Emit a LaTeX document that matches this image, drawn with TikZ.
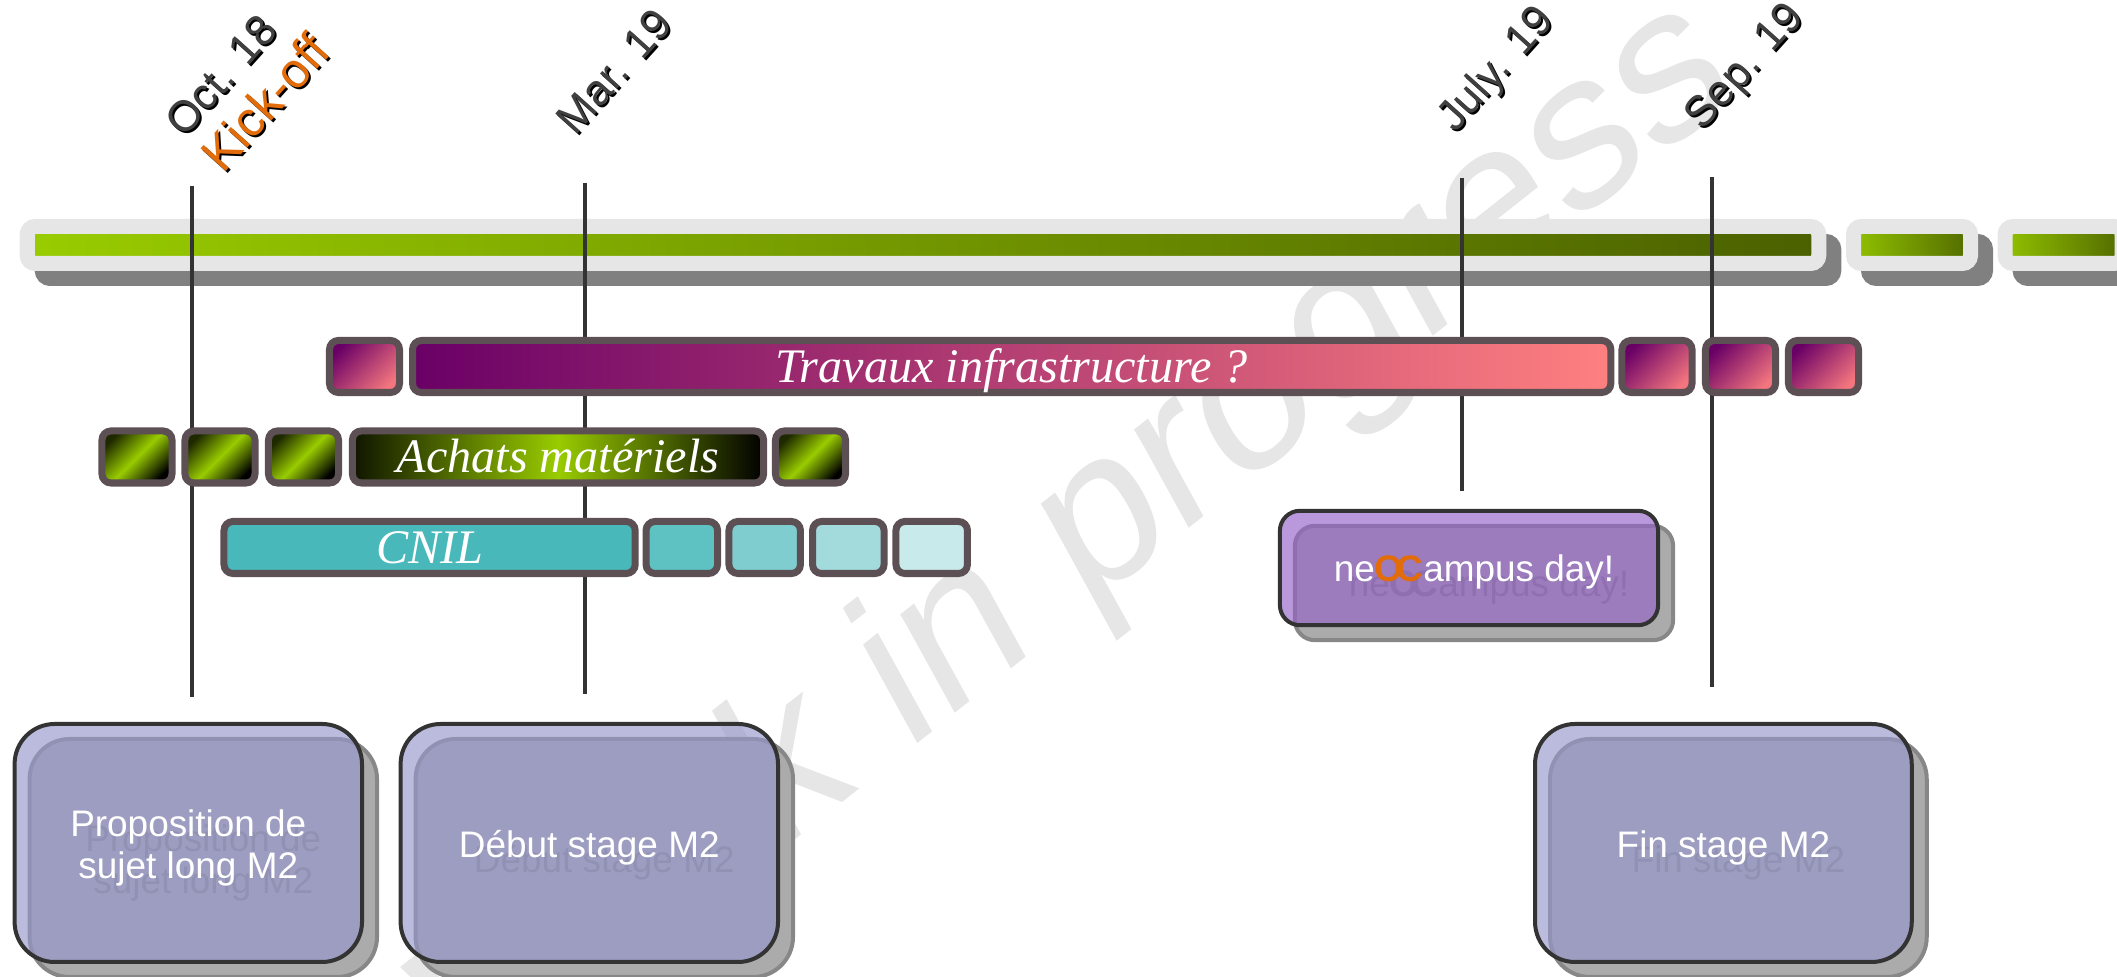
\documentclass[tikz,border=0pt]{standalone}
\usepackage{fontspec}
\setmainfont{Liberation Sans}
\newfontfamily\barfont{Liberation Serif}
\definecolor{barborder}{HTML}{5C5055}
\definecolor{barlight}{HTML}{E6E6E6}
\definecolor{bargreen}{HTML}{99CC00}
\definecolor{bardark}{HTML}{4B6000}
\definecolor{plum}{HTML}{6A0066}
\definecolor{salmon}{HTML}{FF8080}
\definecolor{cnilteal}{HTML}{48B8BA}
\definecolor{kickorange}{HTML}{E36C0A}
\definecolor{boxblue}{HTML}{9797CD}
\definecolor{boxpurple}{HTML}{9463C7}
\tikzset{
  mainbar/.style={draw=barlight,line width=0.15cm,rounded corners=0.08cm,inner sep=0pt,minimum height=0.37cm},
  barshadow/.style={mainbar,draw=black!50,fill=black!50},
  taskbar/.style={draw=barborder,line width=0.07cm,rounded corners=0.09cm,inner sep=0pt,minimum height=0.52cm,
    text height=0.42cm,text depth=0.10cm,text=white,font=\barfont\itshape\fontsize{13.7}{16}\selectfont},
  plumcell/.style={taskbar,left color=plum,right color=salmon!92!plum,shading angle=45,minimum width=0.7cm},
  greencell/.style={taskbar,left color=bargreen!20!black,right color=black,middle color=bargreen,shading angle=45,minimum width=0.7cm},
  tealcell/.style={taskbar,minimum width=0.715cm},
  eventbox/.style={draw=black!80,line width=0.04cm,fill opacity=0.65,inner sep=0pt},
  eventshadow/.style={draw=black!47,fill=black!33,line width=0.04cm,inner sep=0pt},
  eventtext/.style={text=white,align=center,inner sep=0pt,font=\fontsize{10.5}{12.2}\selectfont},
  dateline/.style={draw=black!80,line width=0.033cm},
  datelabel/.style={rotate=48,inner sep=0pt,font=\fontsize{12.3}{14}\selectfont}
}
\begin{document}
\begin{tikzpicture}[x=0.01cm,y=-0.01cm]
      \useasboundingbox (0,0) rectangle (2117,977);
      \node[rotate=38.3,xslant=0.167,yscale=0.98,anchor=base east,text=barlight,inner sep=0pt,font=\fontsize{61}{72}\selectfont] (watermark) at (1740,94) {Work in progress};
      \def \Segments{
        main/923/1791.5/bargreen/bardark,
        segb/1912/117/bargreen!90!bardark/bardark!90!bargreen,
        segc/2063.6/117/bargreen!90!bardark/bardark!90!bargreen}
      \foreach \id / \x / \w / \cl / \cr in \Segments{
        \node[barshadow,minimum width=\w*0.01cm] (\id shadow) at (\x+15,260) {};
        \node[mainbar,left color=\cl,right color=\cr,minimum width=\w*0.01cm] (\id) at (\x,245) {};
      }
      \def \Dates{
        oct/192/186/697/221/75/Oct. 18,
        mar/585/183/694/614/71/Mar. 19,
        july/1462/178/491/1497/70/July. 19,
        sep/1712/177/687/1746/68/Sep. 19}
      \foreach \id / \x / \ya / \yb / \lx / \ly / \txt in \Dates{
        \coordinate (\id top) at (\x,\ya);
        \coordinate (\id bottom) at (\x,\yb);
        \path[dateline] (\id top) -- (\id bottom);
        \node[datelabel,text=black] (\id back) at (\lx+2,\ly+2) {\txt};
        \node[datelabel,text=black!75] (\id label) at (\lx,\ly) {\txt};
      }
      \node[datelabel,text=black,font=\fontsize{14}{16}\selectfont] (kick back) at (267,104) {Kick-off};
      \node[datelabel,text=kickorange,font=\fontsize{14}{16}\selectfont] (kick label) at (265,102) {Kick-off};
      \foreach \id / \x in {tcella/364.5,tcellb/1657,tcellc/1740.5,tcelld/1823.5}{
        \node[plumcell] (\id) at (\x,366.5) {};
      }
      \node[taskbar,left color=plum,right color=salmon,minimum width=11.976cm] (travaux) at (1011.7,366.5) {Travaux infrastructure ?};
      \foreach \id / \x in {acella/137,acellb/220,acellc/303.5,acelld/810.5}{
        \node[greencell] (\id) at (\x,457) {};
      }
      \node[taskbar,left color=bargreen!10!black,right color=black,middle color=bargreen,minimum width=4.11cm] (achats) at (558,457) {Achats matériels};
      \node[taskbar,fill=cnilteal,minimum width=4.11cm] (cnil) at (429.6,547.5) {CNIL};
      \foreach \id / \x / \cl in {ccella/681.8/cnilteal!88,ccellb/764.7/cnilteal!70,ccellc/848.3/cnilteal!50,ccelld/931.7/cnilteal!30}{
        \node[tealcell,fill=\cl] (\id) at (\x,547.5) {};
      }
      \def \Boxes{
        prop/188.3/843/347.4/238/{Proposition de\\sujet long M2},
        debut/589.3/843/377.4/238/{Début stage M2},
        fin/1723.4/843/376.7/238/{Fin stage M2}}
      \foreach \id / \x / \y / \w / \h / \txt in \Boxes{
        \node[eventshadow,rounded corners=0.4cm,minimum width=\w*0.01cm,minimum height=\h*0.01cm] (\id shadow) at (\x+15,\y+15) {};
        \node[eventtext,text=black!47] (\id shadow text) at (\x+15,\y+20) {\txt};
        \node[eventbox,fill=boxblue,rounded corners=0.4cm,minimum width=\w*0.01cm,minimum height=\h*0.01cm] (\id) at (\x,\y) {};
        \node[eventtext] (\id text) at (\x,\y+5) {\txt};
      }
      \node[eventshadow,rounded corners=0.2cm,minimum width=3.78cm,minimum height=1.143cm] (day shadow) at (1484,583) {};
      \node[eventtext,text=black!47] (day shadow text) at (1489,587) {ne\textbf{O\kern-2ptC}ampus day!};
      \node[eventbox,fill=boxpurple,rounded corners=0.2cm,minimum width=3.78cm,minimum height=1.143cm] (day) at (1469,568) {};
      \node[eventtext] (day text) at (1474,572) {ne\textcolor{kickorange}{\textbf{O\kern-2ptC}}ampus day!};
    \end{tikzpicture}
\end{document}
